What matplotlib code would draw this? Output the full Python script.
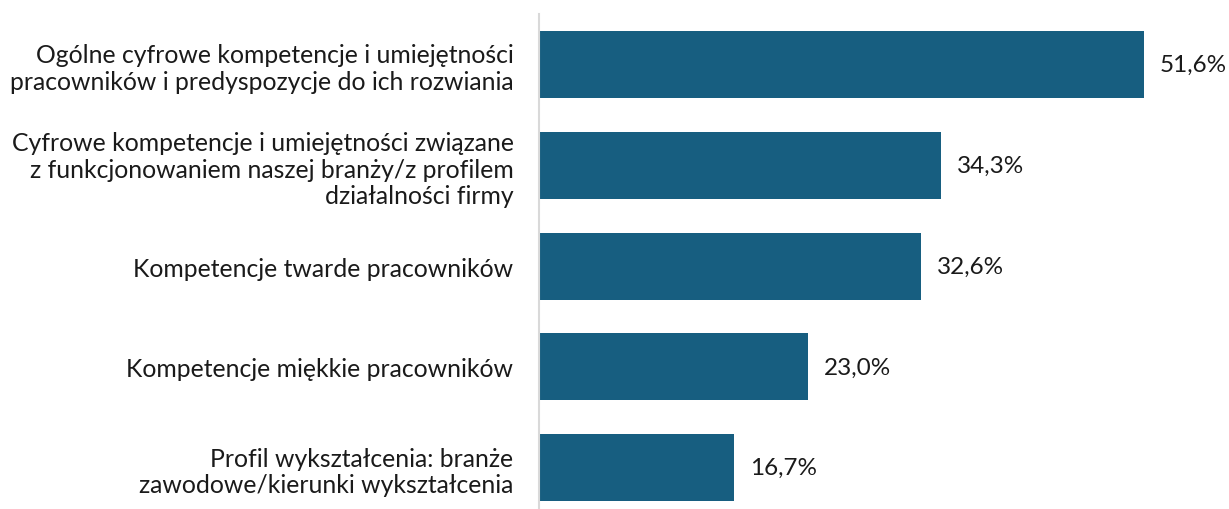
import matplotlib
matplotlib.use("Agg")
import matplotlib.pyplot as plt

categories = [
    "Ogólne cyfrowe kompetencje i umiejętności\npracowników i predyspozycje do ich rozwiania",
    "Cyfrowe kompetencje i umiejętności związane\nz funkcjonowaniem naszej branży/z profilem\ndziałalności firmy",
    "Kompetencje twarde pracowników",
    "Kompetencje miękkie pracowników",
    "Profil wykształcenia: branże\nzawodowe/kierunki wykształcenia",
]
values = [51.6, 34.3, 32.6, 23.0, 16.7]

BAR = "#175e80"
plt.rcParams["font.family"] = ["Lato", "DejaVu Sans"]

fig = plt.figure(figsize=(12.29, 5.10), dpi=100)
ax = fig.add_axes([538.5 / 1229, 0.0, 1 - 538.5 / 1229 - 0.008, 1 - 15 / 510])

y = range(len(categories))
ax.barh(y, values, height=0.665, color=BAR)
for yi, v in zip(y, values):
    ax.text(v + 1.35, yi, f"{v:.1f}%".replace(".", ","), va="center", ha="left",
            fontsize=17.5, color="#1a1a1a")

ax.set_xlim(0, 58.0)
ax.set_ylim(4.41, -0.5)
ax.set_yticks(list(y))
ax.set_yticklabels(categories, fontsize=17.8, color="#1a1a1a", linespacing=1.2)
ax.tick_params(axis="y", length=0, pad=18)
ax.set_xticks([])
for side in ("top", "right", "bottom"):
    ax.spines[side].set_visible(False)
ax.spines["left"].set_color("#d9d9d9")
ax.spines["left"].set_linewidth(1.5)

fig.savefig("out.png", dpi=100)
